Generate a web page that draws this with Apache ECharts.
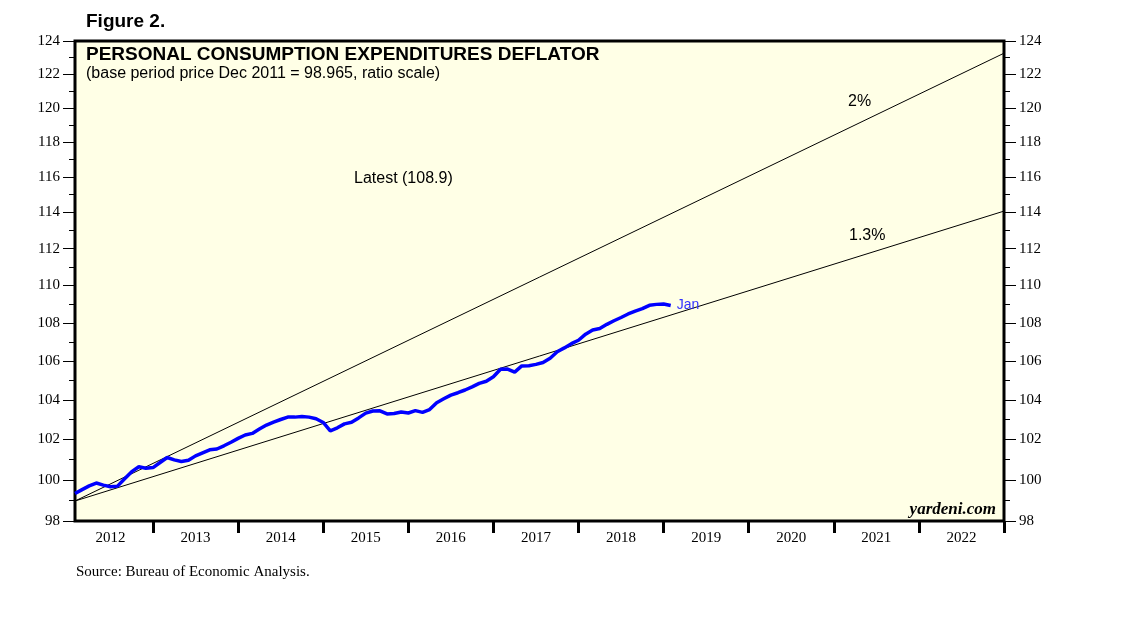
<!DOCTYPE html>
<html>
<head>
<meta charset="utf-8">
<script src="https://cdn.jsdelivr.net/npm/echarts@6/dist/echarts.min.js"></script>
<style>
html,body{margin:0;padding:0;background:#fff;}
#c{width:1138px;height:621px;}
</style>
</head>
<body>
<div id="c"></div>
<script>
// Monthly PCE deflator, Jan 2012 .. Jan 2019 (month index 0 = Jan 2012)
const pce = [
  99.33, 99.52, 99.70, 99.84, 99.74, 99.66, 99.69, 100.05, 100.40, 100.64, 100.57, 100.60, // 2012
  100.85, 101.10, 100.98, 100.90, 100.96, 101.18, 101.33, 101.48, 101.52, 101.68, 101.86, 102.05, // 2013
  102.22, 102.30, 102.52, 102.72, 102.87, 103.00, 103.12, 103.12, 103.15, 103.12, 103.04, 102.85, // 2014
  102.43, 102.58, 102.78, 102.86, 103.08, 103.32, 103.43, 103.44, 103.28, 103.30, 103.38, 103.33, // 2015
  103.45, 103.36, 103.50, 103.85, 104.05, 104.24, 104.36, 104.50, 104.66, 104.84, 104.95, 105.18, // 2016
  105.57, 105.58, 105.42, 105.74, 105.75, 105.82, 105.92, 106.14, 106.48, 106.68, 106.90, 107.08, // 2017
  107.40, 107.62, 107.70, 107.92, 108.11, 108.28, 108.47, 108.62, 108.75, 108.93, 108.98, 109.00, // 2018
  108.92 // Jan 2019
];
// Trend lines (ratio scale, straight): start/end values at month 0 and month 131
const trendX = [0, 131];
const trend2pct = [98.965, 123.26];
const trend13pct = [98.965, 114.08];
// Axis ticks
const yMajor = [98,100,102,104,106,108,110,112,114,116,118,120,122,124];
const yMinor = [99,101,103,105,107,109,111,113,115,117,119,121,123];
const years = [2012,2013,2014,2015,2016,2017,2018,2019,2020,2021,2022];
const yearBoundaries = [11,23,35,47,59,71,83,95,107,119,131];
const yearCenters = [5,17,29,41,53,65,77,89,101,113,125];

const L = Math.log;
const ymin = L(98) - 1e-9, ymax = L(124) + 1e-9;
const serif = '"Liberation Serif", "Times New Roman", serif';
const sans = '"Liberation Sans", Arial, sans-serif';

function yAxisDef(pos, values, len, showLabel) {
  return {
    type: 'value', position: pos, min: ymin, max: ymax,
    splitLine: {show: false},
    axisLine: {show: false},
    axisTick: {show: true, inside: false, length: len, lineStyle: {color: '#000', width: 1}, customValues: values.map(L)},
    axisLabel: {show: showLabel, margin: 15, color: '#000', fontFamily: serif, fontSize: 15,
      customValues: values.map(L), formatter: v => String(Math.round(Math.exp(v)))}
  };
}

const chart = echarts.init(document.getElementById('c'), null, {renderer: 'canvas'});
chart.setOption({
  animation: false,
  grid: {left: 75, right: 134, top: 41, bottom: 100, show: true, backgroundColor: '#FFFFE6', borderColor: '#000', borderWidth: 3, z: 0},
  xAxis: {
    type: 'value', min: 0, max: 131,
    splitLine: {show: false},
    axisLine: {show: false},
    axisTick: {show: true, length: 12, lineStyle: {color: '#000', width: 3}, customValues: yearBoundaries},
    axisLabel: {color: '#000', fontFamily: serif, fontSize: 15, margin: 10, customValues: yearCenters,
      formatter: v => String(years[yearCenters.indexOf(Math.round(v))])}
  },
  yAxis: [
    yAxisDef('left', yMajor, 12, true),
    yAxisDef('right', yMajor, 12, true),
    yAxisDef('left', yMinor, 6, false),
    yAxisDef('right', yMinor, 6, false)
  ],
  series: [
    {type: 'line', data: trendX.map((x, i) => [x, L(trend2pct[i])]), symbol: 'none', lineStyle: {color: '#000', width: 1}, z: 2, silent: true},
    {type: 'line', data: trendX.map((x, i) => [x, L(trend13pct[i])]), symbol: 'none', lineStyle: {color: '#000', width: 1}, z: 2, silent: true},
    {type: 'line', data: pce.map((v, i) => [i, L(v)]), symbol: 'none', lineStyle: {color: '#0000FF', width: 3.5}, z: 3,
      endLabel: {show: true, formatter: 'Jan', color: '#3333FF', fontFamily: sans, fontSize: 14, distance: 6}}
  ],
  graphic: [
    {type: 'text', left: 86, top: 12, style: {text: 'Figure 2.', font: 'bold 19px ' + sans, fill: '#000'}},
    {type: 'text', x: 86, y: 55, style: {text: 'PERSONAL CONSUMPTION EXPENDITURES DEFLATOR', font: 'bold 19px ' + sans, fill: '#000', textVerticalAlign: 'middle'}, z: 10},
    {type: 'text', x: 86, y: 74, style: {text: '(base period price Dec 2011 = 98.965, ratio scale)', font: '16px ' + sans, fill: '#000', textVerticalAlign: 'middle'}, z: 10},
    {type: 'text', x: 354, y: 179, style: {text: 'Latest (108.9)', font: '16px ' + sans, fill: '#000', textVerticalAlign: 'middle'}, z: 10},
    {type: 'text', x: 848, y: 102, style: {text: '2%', font: '16px ' + sans, fill: '#000', textVerticalAlign: 'middle'}, z: 10},
    {type: 'text', x: 849, y: 236, style: {text: '1.3%', font: '16px ' + sans, fill: '#000', textVerticalAlign: 'middle'}, z: 10},
    {type: 'text', x: 996, y: 510, style: {text: 'yardeni.com', font: 'italic bold 17px ' + serif, fill: '#000', textAlign: 'right', textVerticalAlign: 'middle'}, z: 10},
    {type: 'text', x: 76, y: 572, style: {text: 'Source: Bureau of Economic Analysis.', font: '15px ' + serif, fill: '#000', textVerticalAlign: 'middle'}, z: 10}
  ]
});
</script>
</body>
</html>
